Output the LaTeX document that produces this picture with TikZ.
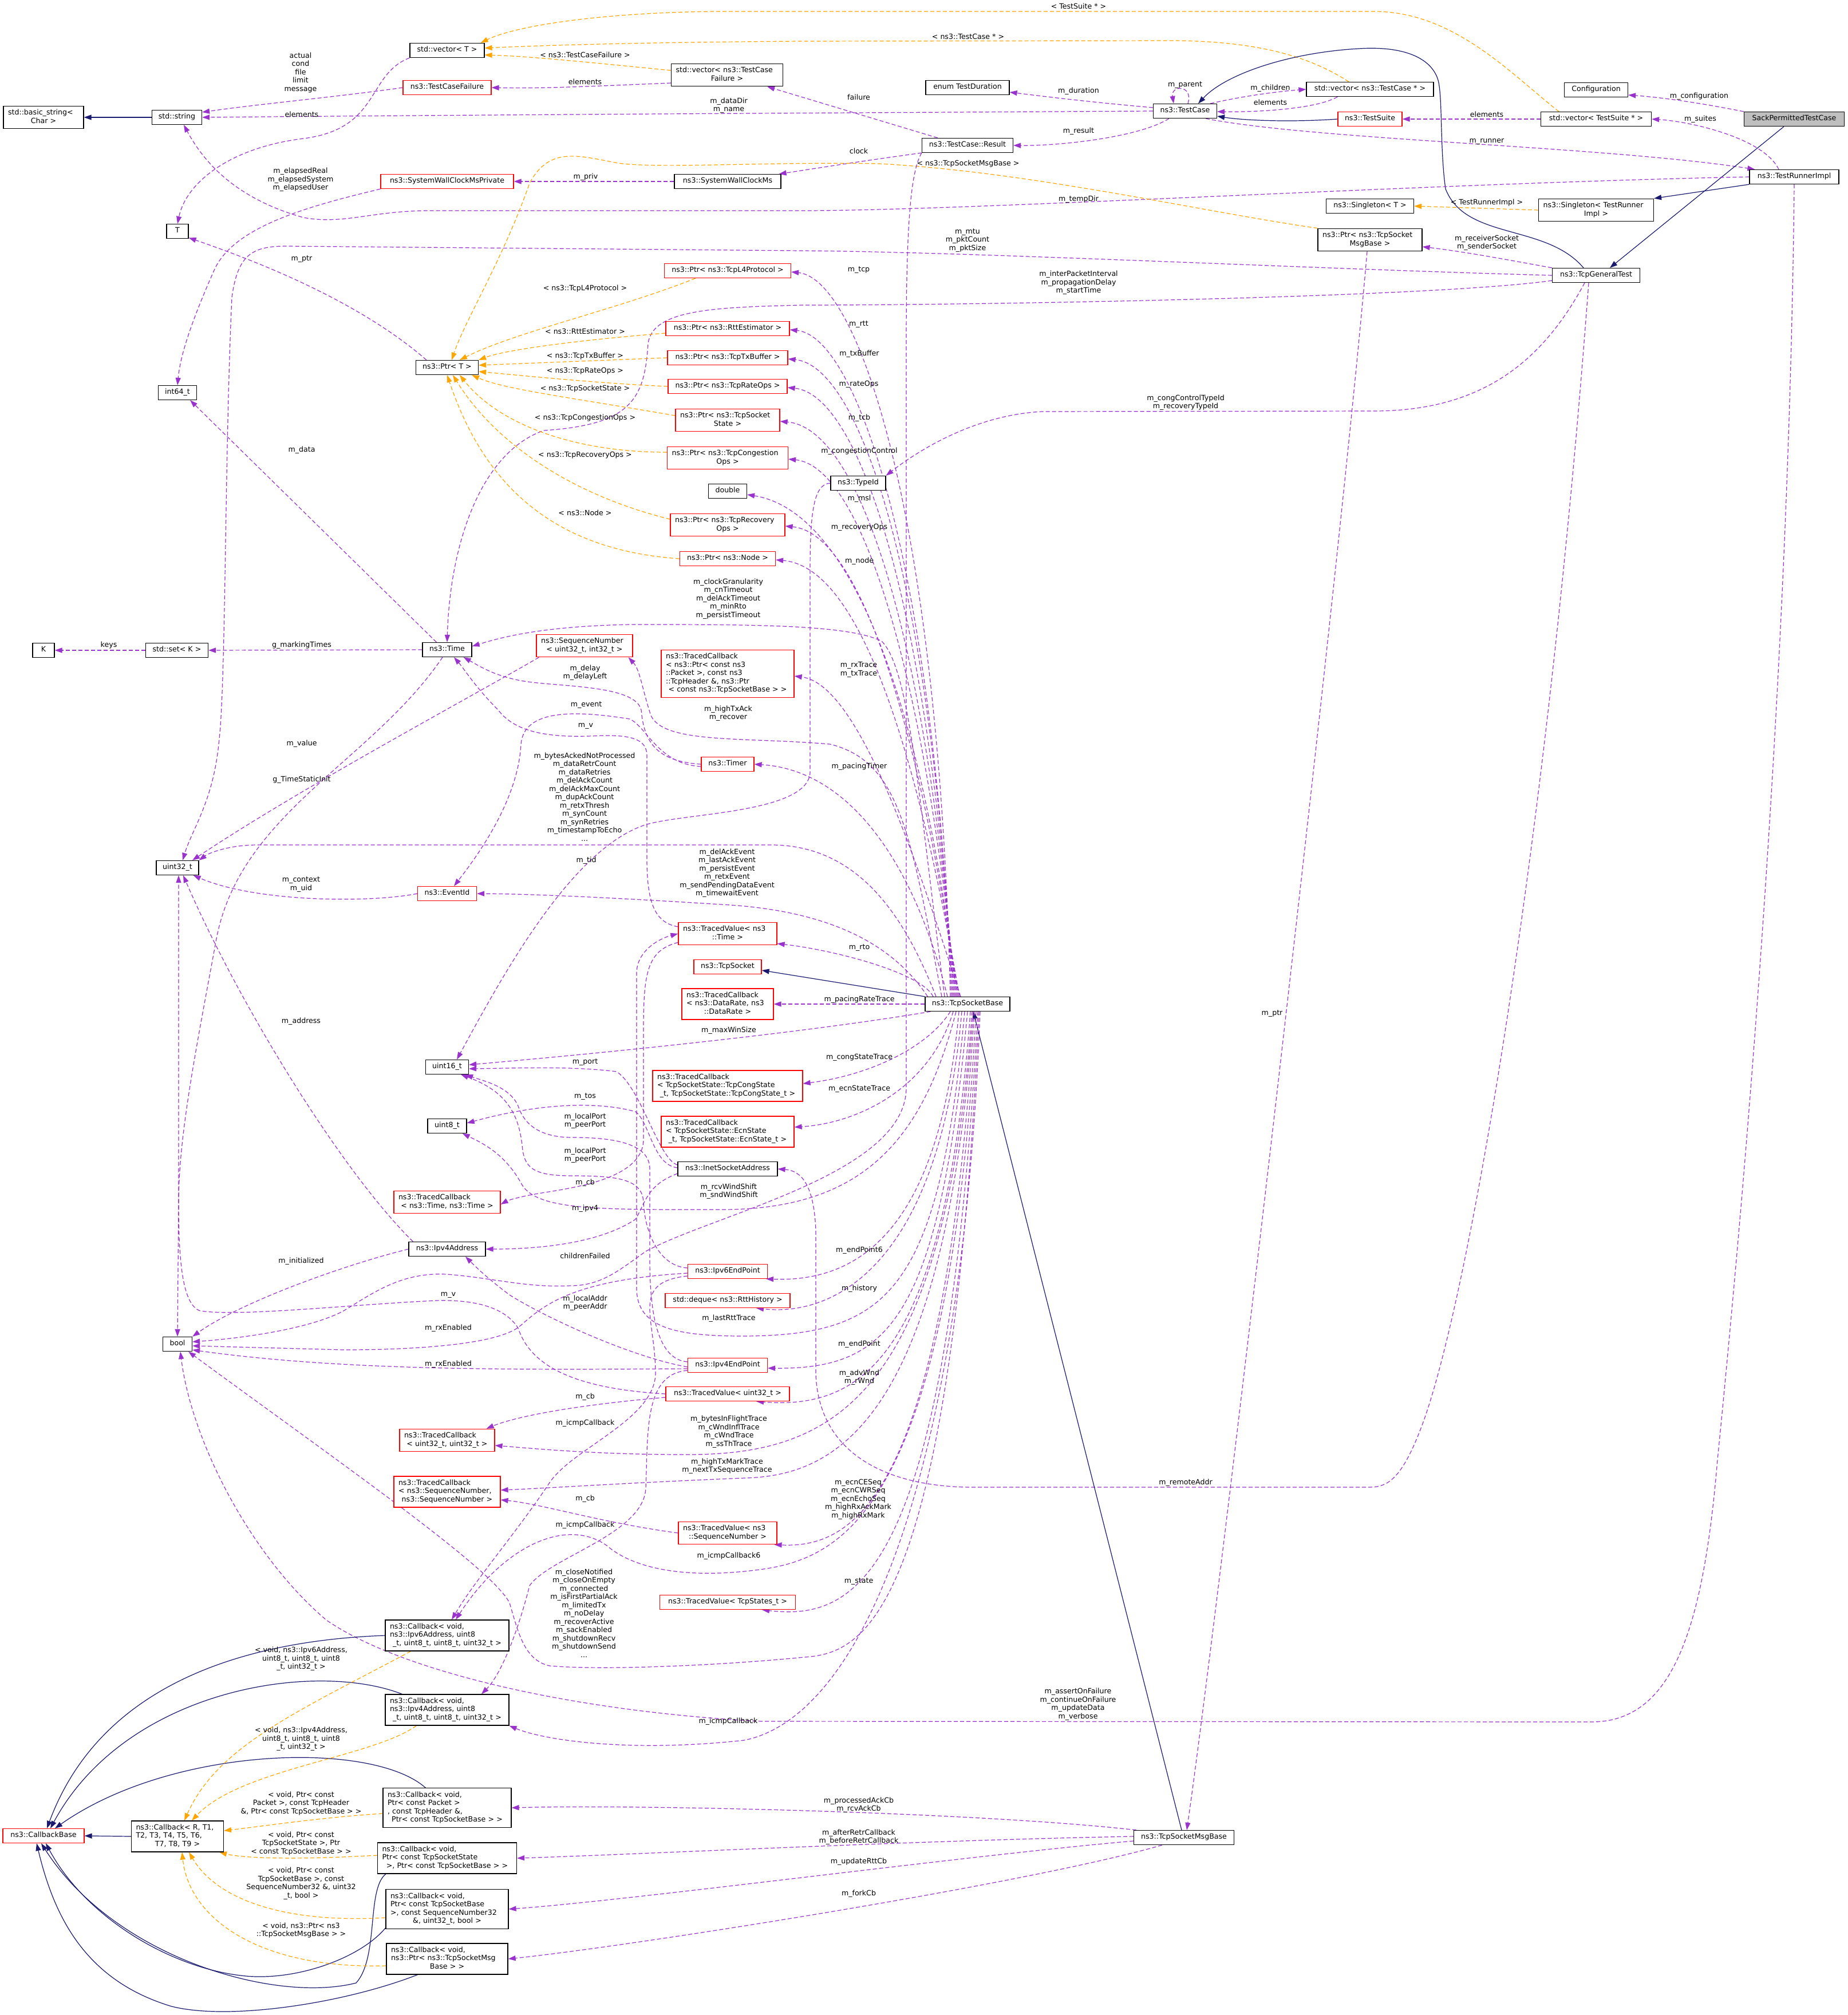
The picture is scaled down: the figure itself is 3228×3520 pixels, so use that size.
\documentclass[tikz,border=0pt]{standalone}
\usepackage{fontspec}
\setmainfont{DejaVu Sans}
\usetikzlibrary{arrows.meta,calc}
\definecolor{upurple}{HTML}{9A32CD}
\definecolor{uorange}{HTML}{FFA500}
\definecolor{ublue}{HTML}{191970}
\definecolor{ugray}{HTML}{BFBFBF}
\newcommand\dfont{\fontsize{12.6}{14.5}\selectfont}
\newcommand\nlx{\\\strut}
\newcommand\lastln[1]{\makebox[\hsize]{\strut #1}}
\pgfdeclarelayer{bgzero}
\pgfdeclarelayer{edges}
\pgfsetlayers{bgzero,edges,main}
\tikzset{
 box/.style={draw=black, line width=1.2pt, fill=white, font=\dfont, inner xsep=4pt, inner ysep=5.25pt, execute at begin node=\strut, align=center},
 rbox/.style={box, draw=red},
 gbox/.style={box, fill=ugray},
 mbox/.style={box, align=left, inner xsep=8pt},
 rmbox/.style={mbox, draw=red},
 lab/.style={font=\dfont, align=center, inner sep=0pt},
 usage/.style={draw=upurple, line width=1.2pt, dash pattern=on 7pt off 4pt, -{Triangle[length=13pt,width=9pt]}},
 tmpl/.style={usage, draw=uorange},
 inher/.style={draw=ublue, line width=1.2pt, -{Triangle[length=13pt,width=9pt]}}
}
\begin{document}
\begin{tikzpicture}[x=1pt,y=-1pt]
\begin{pgfonlayer}{bgzero}
\fill[white] (0,0) rectangle (3228,3520);
\end{pgfonlayer}
\useasboundingbox (0,0) rectangle (3228,3520);

% ---------------- nodes ----------------
\node[gbox,minimum width=175pt] (sptc) at (3134,208) {SackPermittedTestCase};
\node[box,minimum width=111pt] (conf) at (2788,157) {Configuration};
\node[box,minimum width=193pt] (vsuite) at (2788,208) {std::vector< TestSuite * >};
\node[rbox,minimum width=112pt] (suite) at (2393,208) {ns3::TestSuite};
\node[box,minimum width=111pt] (tc) at (2070,194) {ns3::TestCase};
\node[box,minimum width=222pt] (vtc) at (2393,156) {std::vector< ns3::TestCase * >};
\node[box,minimum width=146pt] (tdur) at (1690,153) {enum TestDuration};
\node[box,minimum width=159pt] (res) at (1690,254) {ns3::TestCase::Result};
\node[mbox,text width=179pt] (vfail) at (1270,131) {std::vector< ns3::TestCase\\\lastln{Failure >}};
\node[box,minimum width=186pt] (swcm) at (1271,317) {ns3::SystemWallClockMs};
\node[box,minimum width=130pt] (vecT) at (781,88) {std::vector< T >};
\node[rbox,minimum width=154pt] (tcf) at (781,153) {ns3::TestCaseFailure};
\node[box,minimum width=87pt] (str) at (309,205) {std::string};
\node[mbox,text width=124pt] (bstr) at (76,205) {std::basic\_string<\\\lastln{Char >}};
\node[rbox,minimum width=232pt] (swcmp) at (781,317) {ns3::SystemWallClockMsPrivate};
\node[box,minimum width=38pt] (T) at (310,404) {T};
\node[rbox,minimum width=221pt] (pl4) at (1271,473) {ns3::Ptr< ns3::TcpL4Protocol >};
\node[box,minimum width=109pt] (ptrT) at (781,642) {ns3::Ptr< T >};
\node[box,minimum width=67pt] (i64) at (310,686) {int64\_t};
\node[rbox,minimum width=216pt] (prtt) at (1271,574) {ns3::Ptr< ns3::RttEstimator >};
\node[rbox,minimum width=210pt] (ptx) at (1271,625) {ns3::Ptr< ns3::TcpTxBuffer >};
\node[rbox,minimum width=208pt] (prate) at (1271,675) {ns3::Ptr< ns3::TcpRateOps >};
\node[rmbox,text width=166pt] (ptcb) at (1271,734) {ns3::Ptr< ns3::TcpSocket\\\lastln{State >}};
\node[rmbox,text width=195pt] (pcong) at (1271,800) {ns3::Ptr< ns3::TcpCongestion\\\lastln{Ops >}};
\node[box,minimum width=96pt] (typeid) at (1499,844) {ns3::TypeId};
\node[box,minimum width=67pt] (dbl) at (1271,858) {double};
\node[rmbox,text width=184pt] (prec) at (1271,917) {ns3::Ptr< ns3::TcpRecovery\\\lastln{Ops >}};
\node[rbox,minimum width=167pt] (pnode) at (1271,976) {ns3::Ptr< ns3::Node >};
\node[rmbox,text width=216pt] (tcpkt) at (1271,1177) {ns3::TracedCallback\nlx < ns3::Ptr< const ns3\nlx ::Packet >, const ns3\nlx ::TcpHeader \&, ns3::Ptr\\\lastln{< const ns3::TcpSocketBase > >}};
\node[rmbox,text width=152pt] (seqn) at (1021,1128) {ns3::SequenceNumber\\\lastln{< uint32\_t, int32\_t >}};
\node[rbox,minimum width=92pt] (timer) at (1271,1335) {ns3::Timer};
\node[box,minimum width=86pt] (time) at (781,1135) {ns3::Time};
\node[box,minimum width=109pt] (setK) at (309,1136) {std::set< K >};
\node[box,minimum width=38pt] (K) at (76,1136) {K};
\node[box,minimum width=74pt] (u32) at (310,1516) {uint32\_t};
\node[rbox,minimum width=103pt] (evid) at (781,1561) {ns3::EventId};
\node[rmbox,text width=156pt] (tvtime) at (1271,1631) {ns3::TracedValue< ns3\\\lastln{::Time >}};
\node[rbox,minimum width=118pt] (tsock) at (1271,1689) {ns3::TcpSocket};
\node[box,minimum width=148pt] (tsb) at (1690,1754) {ns3::TcpSocketBase};
\node[rmbox,text width=144pt] (tcrate) at (1271,1754) {ns3::TracedCallback\nlx < ns3::DataRate, ns3\\\lastln{::DataRate >}};
\node[box,minimum width=75pt] (u16) at (781,1864) {uint16\_t};
\node[rmbox,text width=246pt] (tccong) at (1271,1897) {ns3::TracedCallback\nlx < TcpSocketState::TcpCongState\\\lastln{\_t, TcpSocketState::TcpCongState\_t >}};
\node[box,minimum width=68pt] (u8) at (781,1967) {uint8\_t};
\node[rmbox,text width=216pt] (tcecn) at (1271,1977) {ns3::TracedCallback\nlx < TcpSocketState::EcnState\\\lastln{\_t, TcpSocketState::EcnState\_t >}};
\node[box,minimum width=174pt] (inet) at (1271,2042) {ns3::InetSocketAddress};
\node[rmbox,text width=170pt] (tctt) at (781,2100) {ns3::TracedCallback\\\lastln{< ns3::Time, ns3::Time >}};
\node[box,minimum width=134pt] (ipv4a) at (781,2182) {ns3::Ipv4Address};
\node[rbox,minimum width=139pt] (ep6) at (1271,2221) {ns3::Ipv6EndPoint};
\node[rbox,minimum width=218pt] (deq) at (1271,2272) {std::deque< ns3::RttHistory >};
\node[box,minimum width=51pt] (bool) at (310,2348) {bool};
\node[rbox,minimum width=139pt] (ep4) at (1271,2385) {ns3::Ipv4EndPoint};
\node[rbox,minimum width=216pt] (tvu32) at (1271,2435) {ns3::TracedValue< uint32\_t >};
\node[rmbox,text width=150pt] (tcu32) at (781,2516) {ns3::TracedCallback\\\lastln{< uint32\_t, uint32\_t >}};
\node[rmbox,text width=170pt] (tcseq) at (781,2606) {ns3::TracedCallback\nlx < ns3::SequenceNumber,\\\lastln{ns3::SequenceNumber >}};
\node[rmbox,text width=156pt] (tvseq) at (1271,2678) {ns3::TracedValue< ns3\\\lastln{::SequenceNumber >}};
\node[rbox,minimum width=237pt] (tvstate) at (1271,2799) {ns3::TracedValue< TcpStates\_t >};
\node[mbox,text width=200pt] (cb6) at (781,2857) {ns3::Callback< void,\nlx ns3::Ipv6Address, uint8\\\lastln{\_t, uint8\_t, uint8\_t, uint32\_t >}};
\node[mbox,text width=200pt] (cb4) at (781,2987) {ns3::Callback< void,\nlx ns3::Ipv4Address, uint8\\\lastln{\_t, uint8\_t, uint8\_t, uint32\_t >}};
\node[rbox,minimum width=142pt] (cbase) at (76,3207) {ns3::CallbackBase};
\node[mbox,text width=145pt] (cbR) at (310,3208) {ns3::Callback< R, T1,\nlx T2, T3, T4, T5, T6,\\\lastln{T7, T8, T9 >}};
\node[mbox,text width=208pt] (cbpkt) at (781,3158) {ns3::Callback< void,\nlx Ptr< const Packet >\nlx , const TcpHeader \&,\\\lastln{Ptr< const TcpSocketBase > >}};
\node[mbox,text width=227pt] (cbstate) at (781,3246) {ns3::Callback< void,\nlx Ptr< const TcpSocketState\\\lastln{>, Ptr< const TcpSocketBase > >}};
\node[mbox,text width=198pt] (cbseq) at (781,3335) {ns3::Callback< void,\nlx Ptr< const TcpSocketBase\nlx >, const SequenceNumber32\\\lastln{\&, uint32\_t, bool >}};
\node[mbox,text width=196pt] (cbmsg) at (781,3422) {ns3::Callback< void,\nlx ns3::Ptr< ns3::TcpSocketMsg\\\lastln{Base > >}};
\node[box,minimum width=175pt] (msgb) at (2068,3210) {ns3::TcpSocketMsgBase};
\node[mbox,text width=166pt] (pmsg) at (2393,419) {ns3::Ptr< ns3::TcpSocket\\\lastln{MsgBase >}};
\node[box,minimum width=153pt] (singT) at (2393,360) {ns3::Singleton< T >};
\node[mbox,text width=185pt] (singR) at (2788,367) {ns3::Singleton< TestRunner\\\lastln{Impl >}};
\node[box,minimum width=156pt] (run) at (3134,309) {ns3::TestRunnerImpl};
\node[box,minimum width=153pt] (gen) at (2788,481) {ns3::TcpGeneralTest};

% ---------------- edges ----------------
\begin{pgfonlayer}{edges}
% top area
\draw[usage] (tcf.west) .. controls (600,168) and (450,182) .. ($(str.east)+(0,-9)$);
\draw[usage] (vecT.south west) .. controls (640,130) and (665,225) .. (530,242) .. controls (400,258) and (325,320) .. (T.north);
\draw[usage] ($(vfail.west)+(0,14)$) .. controls (1050,150) and (950,155) .. (tcf.east);
\draw[tmpl] ($(vfail.west)+(0,-8)$) .. controls (1020,108) and (920,98) .. ($(vecT.east)+(0,8)$);
\draw[tmpl] ($(vtc.north)+(-37,0)$) .. controls (2290,100) and (2200,72) .. (2050,71) -- (1400,72) .. controls (1100,74) and (930,80) .. ($(vecT.east)+(0,-4)$);
\draw[tmpl] ($(vsuite.north)+(-65,0)$) .. controls (2640,130) and (2540,20) .. (2400,20) -- (1250,20) .. controls (1050,22) and (900,45) .. ($(vecT.north east)+(-7,0)$);
\draw[inher] (str.west) -- (bstr.east);
\draw[usage] (tc.west) .. controls (1500,197) and (900,200) .. (str.east);
\draw[usage] (swcmp.south west) .. controls (540,360) and (410,395) .. (375,470) .. controls (335,560) and (315,620) .. (i64.north);
\draw[usage] (swcm.west) -- (swcmp.east);
\draw[usage] (res.south west) .. controls (1500,282) and (1420,295) .. ($(swcm.north east)+(-4,0)$);
\draw[usage] ($(res.north west)+(28,0)$) -- ($(vfail.south east)+(-28,0)$);
\draw[usage] ($(tc.west)+(0,-6)$) .. controls (1900,178) and (1820,168) .. ($(tdur.east)+(0,8)$);
\draw[usage] ($(tc.south west)+(28,0)$) .. controls (1990,240) and (1850,255) .. (res.east);
\draw[usage] ($(tc.north)+(5,0)$) .. controls (2085,148) and (2045,148) .. ($(tc.north)+(-20,0)$);
\draw[usage] ($(tc.north east)+(-12,0)$) .. controls (2170,168) and (2230,160) .. (vtc.west);
\draw[usage] ($(vtc.south west)+(55,0)$) .. controls (2300,190) and (2200,196) .. ($(tc.east)+(0,1)$);
\draw[inher] (suite.west) .. controls (2250,214) and (2170,210) .. ($(tc.east)+(0,9)$);
\draw[inher] ($(gen.north)+(-22,0)$) .. controls (2700,390) and (2560,420) .. (2525,330) .. controls (2515,260) and (2520,170) .. (2512,140) .. controls (2500,100) and (2450,80) .. (2373,85) .. controls (2250,92) and (2140,130) .. ($(tc.north)+(23,0)$);
\draw[usage] (vsuite.west) -- (suite.east);
\draw[usage] (sptc.north west) .. controls (2960,178) and (2900,170) .. ($(conf.east)+(0,9)$);
\draw[usage] ($(run.north)+(-27,0)$) .. controls (3080,240) and (2950,212) .. (vsuite.east);
\draw[usage] ($(tc.south east)+(-20,0)$) .. controls (2300,245) and (2800,255) .. ($(run.north west)+(10,0)$);
\draw[inher] ($(sptc.south)+(-18,0)$) -- ($(gen.north)+(24,0)$);
\draw[inher] (run.south west) -- (singR.north east);
\draw[tmpl] (singR.west) -- (singT.east);
\draw[usage] (run.west) .. controls (2500,320) and (1700,368) .. (1400,368) -- (750,368) .. controls (650,368) and (600,393) .. (530,380) .. controls (430,352) and (365,300) .. ($(str.south)+(12,0)$);
\draw[usage] (run.south) .. controls (3125,1200) and (3045,2100) .. (3000,2550) .. controls (2975,2850) and (2920,3008) .. (2780,3008) -- (1330,3007) .. controls (1000,2990) and (700,2920) .. (570,2830) .. controls (440,2720) and (335,2520) .. ($(bool.south)+(5,0)$);
% TcpGeneralTest
\draw[usage] (gen.north west) .. controls (2640,455) and (2560,440) .. ($(pmsg.east)+(0,12)$);
\draw[usage] (gen.west) .. controls (2300,470) and (1700,440) .. (1400,438) -- (500,430) .. controls (440,430) and (415,445) .. (405,520) .. controls (392,800) and (395,1200) .. (382,1300) .. controls (372,1400) and (335,1450) .. ($(u32.north)+(9,0)$);
\draw[usage] ($(gen.south west)+(0,-4)$) .. controls (2500,520) and (1700,533) .. (1400,533) .. controls (1250,537) and (1140,540) .. (1132,600) .. controls (1126,700) and (1100,742) .. (950,752) .. controls (840,790) and (786,950) .. (time.north);
\draw[usage] ($(gen.south)+(-20,0)$) .. controls (2700,620) and (2600,718) .. (2400,718) -- (1820,719) .. controls (1700,725) and (1600,790) .. (typeid.north east);
\draw[usage] ($(gen.south)+(-13,0)$) .. controls (2700,1500) and (2560,2300) .. (2480,2500) .. controls (2445,2590) and (2420,2598) .. (2390,2598) -- (1700,2598) .. controls (1550,2598) and (1430,2540) .. (1425,2400) -- (1425,2150) .. controls (1422,2070) and (1400,2045) .. (inet.east);
% TcpSocketMsgBase
\draw[tmpl] (pmsg.north west) .. controls (2100,370) and (1800,300) .. (1536,286) .. controls (1350,282) and (1150,295) .. (1080,285) .. controls (1010,272) and (960,255) .. (925,320) .. controls (880,450) and (812,560) .. ($(ptrT.north)+(8,0)$);
\draw[usage] ($(pmsg.south)+(-5,0)$) .. controls (2340,1000) and (2130,2800) .. ($(msgb.north)+(5,0)$);
\draw[inher] ($(msgb.north)+(-4,0)$) -- ($(tsb.south)+(10,0)$);
\draw[usage] ($(msgb.north west)+(5,0)$) .. controls (1700,3165) and (1100,3152) .. (cbpkt.east);
\draw[usage] ($(msgb.west)+(0,-2)$) .. controls (1600,3215) and (1100,3240) .. (cbstate.east);
\draw[usage] ($(msgb.west)+(0,6)$) .. controls (1700,3240) and (1100,3320) .. (cbseq.east);
\draw[usage] ($(msgb.south west)+(50,0)$) .. controls (1800,3290) and (1100,3400) .. (cbmsg.east);
% Ptr
\draw[usage] ($(ptrT.north west)+(19,0)$) .. controls (620,520) and (430,450) .. (T.-30);
\draw[tmpl] ($(pl4.south west)+(55,0)$) .. controls (1080,540) and (900,580) .. ($(ptrT.north)+(22,0)$);
\draw[tmpl] ($(prtt.west)+(0,8)$) .. controls (1000,595) and (880,612) .. (ptrT.north east);
\draw[tmpl] (ptx.west) -- ($(ptrT.east)+(0,-4)$);
\draw[tmpl] (prate.west) .. controls (1050,670) and (900,655) .. ($(ptrT.east)+(0,7)$);
\draw[tmpl] ($(ptcb.west)+(0,-8)$) .. controls (1000,695) and (880,680) .. ($(ptrT.south east)+(-12,0)$);
\draw[tmpl] ($(pcong.west)+(0,-10)$) .. controls (1000,790) and (870,740) .. ($(ptrT.south)+(22,0)$);
\draw[tmpl] ($(prec.west)+(0,-10)$) .. controls (1000,865) and (865,775) .. ($(ptrT.south)+(10,0)$);
\draw[tmpl] (pnode.west) .. controls (950,960) and (840,830) .. (ptrT.south);
% TcpSocketBase upward
\draw[usage] ($(tsb.north)+(-30,0)$) .. controls (1640,900) and (1500,487) .. ($(pl4.east)+(0,2)$);
\draw[usage] ($(tsb.north)+(-28,0)$) .. controls (1632,1000) and (1500,588) .. ($(prtt.east)+(0,2)$);
\draw[usage] ($(tsb.north)+(-26,0)$) .. controls (1627,1000) and (1500,639) .. ($(ptx.east)+(0,2)$);
\draw[usage] ($(tsb.north)+(-24,0)$) .. controls (1622,1050) and (1500,689) .. ($(prate.east)+(0,2)$);
\draw[usage] ($(tsb.north)+(-22,0)$) .. controls (1617,1100) and (1500,748) .. ($(ptcb.east)+(0,2)$);
\draw[usage] ($(tsb.north)+(-20,0)$) .. controls (1612,1150) and (1500,814) .. ($(pcong.east)+(0,2)$);
\draw[usage] ($(tsb.north)+(-18,0)$) .. controls (1607,1200) and (1480,892) .. ($(dbl.east)+(0,6)$);
\draw[usage] ($(tsb.north)+(-16,0)$) .. controls (1602,1250) and (1500,931) .. ($(prec.east)+(0,2)$);
\draw[usage] ($(tsb.north)+(-14,0)$) .. controls (1600,1300) and (1500,990) .. ($(pnode.east)+(0,2)$);
\draw[usage] ($(tsb.north)+(-40,0)$) .. controls (1605,1400) and (1590,1170) .. (1540,1120) .. controls (1480,1090) and (1300,1091) .. (1100,1091) .. controls (950,1094) and (880,1112) .. ($(time.east)+(0,-6)$);
\draw[usage] ($(tsb.north)+(-12,0)$) .. controls (1600,1500) and (1500,1195) .. ($(tcpkt.east)+(0,4)$);
\draw[usage] ($(tsb.north)+(-45,0)$) .. controls (1590,1450) and (1570,1330) .. (1450,1300) .. controls (1300,1287) and (1160,1300) .. (1137,1250) .. controls (1122,1205) and (1118,1170) .. ($(seqn.south east)+(-8,0)$);
\draw[usage] ($(tsb.north)+(-35,0)$) .. controls (1595,1500) and (1480,1345) .. (timer.east);
\draw[usage] ($(tsb.north)+(-55,0)$) .. controls (1580,1600) and (1500,1478) .. (1350,1476) -- (450,1476) .. controls (400,1476) and (365,1490) .. (u32.north east);
\draw[usage] ($(tsb.north west)+(5,0)$) .. controls (1560,1650) and (1450,1590) .. (1260,1580) .. controls (1100,1570) and (950,1562) .. (evid.east);
\draw[usage] ($(tsb.north)+(-60,0)$) .. controls (1610,1700) and (1460,1660) .. ($(tvtime.south east)+(0,-3)$);
\draw[inher] (tsb.north west) -- ($(tsock.east)+(0,6)$);
\draw[usage] (tsb.west) -- (tcrate.east);
% TcpSocketBase downward
\draw[usage] ($(tsb.south west)+(10,0)$) .. controls (1400,1805) and (1050,1840) .. ($(u16.east)+(0,-4)$);
\draw[usage] ($(tsb.south)+(-30,0)$) .. controls (1620,1830) and (1520,1878) .. ($(tccong.east)+(0,-4)$);
\draw[usage] ($(tsb.south)+(-25,0)$) .. controls (1625,1900) and (1500,1962) .. ($(tcecn.east)+(0,-8)$);
\draw[usage] ($(tsb.south)+(-20,0)$) .. controls (1610,2000) and (1500,2113) .. (1260,2113) .. controls (1050,2113) and (940,2115) .. (912,2070) .. controls (885,2020) and (850,2000) .. ($(u8.south east)+(-8,0)$);
\draw[usage] ($(tsb.south)+(-15,0)$) .. controls (1640,2150) and (1500,2240) .. ($(ep6.south east)+(-3,0)$);
\draw[usage] ($(tsb.south)+(-10,0)$) .. controls (1640,2220) and (1450,2300) .. ($(deq.south)+(50,0)$);
\draw[usage] ($(tsb.south)+(-5,0)$) .. controls (1640,2260) and (1550,2332) .. (1300,2334) .. controls (1180,2334) and (1112,2320) .. (1112,2250) -- (1112,1700) .. controls (1112,1662) and (1150,1640) .. (tvtime.west);
\draw[usage] (tsb.south) .. controls (1640,2310) and (1550,2392) .. ($(ep4.east)+(0,5)$);
\draw[usage] ($(tsb.south)+(5,0)$) .. controls (1650,2380) and (1500,2462) .. ($(tvu32.south)+(50,0)$);
\draw[usage] ($(tsb.south)+(8,0)$) .. controls (1650,2450) and (1450,2541) .. (1200,2541) .. controls (1050,2541) and (950,2532) .. ($(tcu32.east)+(0,9)$);
\draw[usage] ($(tsb.south)+(10,0)$) .. controls (1650,2500) and (1450,2578) .. (1300,2582) .. controls (1100,2590) and (950,2600) .. ($(tcseq.east)+(0,-3)$);
\draw[usage] ($(tsb.south)+(12,0)$) .. controls (1650,2600) and (1500,2705) .. ($(tvseq.south east)+(-5,0)$);
\draw[usage] ($(tsb.south)+(15,0)$) .. controls (1655,2690) and (1450,2730) .. (1300,2745) .. controls (1180,2757) and (1100,2735) .. (1060,2700) .. controls (990,2650) and (880,2700) .. ($(cb6.north)+(15,0)$);
\draw[usage] ($(tsb.south)+(18,0)$) .. controls (1655,2750) and (1500,2832) .. ($(tvstate.south)+(60,0)$);
\draw[usage] ($(tsb.south)+(20,0)$) .. controls (1660,2850) and (1500,2888) .. (1404,2895) .. controls (1250,2910) and (1050,2918) .. (960,2910) .. controls (915,2900) and (905,2850) .. (890,2800) .. controls (860,2740) and (600,2560) .. ($(bool.south east)+(-7,0)$);
\draw[usage] ($(tsb.south)+(22,0)$) .. controls (1680,2600) and (1500,3000) .. (1300,3040) .. controls (1100,3062) and (950,3040) .. (cb4.south east);
% Time and friends
\draw[usage] ($(time.north west)+(25,0)$) -- ($(i64.south east)+(-12,0)$);
\draw[usage] (time.west) -- (setK.east);
\draw[usage] (setK.west) -- (K.east);
\draw[usage] ($(time.south)+(-8,0)$) .. controls (650,1330) and (420,1420) .. (378,1640) .. controls (345,1820) and (312,1980) .. (312,2100) -- (bool.north);
\draw[usage] ($(seqn.south west)+(5,0)$) .. controls (800,1230) and (520,1380) .. ($(u32.north)+(26,0)$);
\draw[usage] (evid.west) .. controls (650,1577) and (450,1577) .. ($(u32.south east)+(-10,0)$);
\draw[usage] (timer.west) .. controls (1150,1330) and (1125,1300) .. (1120,1240) .. controls (1110,1200) and (1000,1200) .. (930,1192) .. controls (870,1185) and (840,1165) .. ($(time.south east)+(-15,0)$);
\draw[usage] ($(timer.west)+(0,4)$) .. controls (1150,1335) and (1130,1270) .. (1100,1256) .. controls (1000,1240) and (915,1240) .. (910,1300) .. controls (905,1400) and (830,1500) .. ($(evid.north)+(12,0)$);
\draw[usage] ($(tvtime.west)+(0,-12)$) .. controls (1145,1612) and (1130,1580) .. (1130,1500) -- (1130,1320) .. controls (1130,1290) and (1100,1284) .. (1050,1285) .. controls (960,1290) and (900,1280) .. (870,1240) .. controls (830,1200) and (812,1170) .. ($(time.south)+(12,0)$);
\draw[usage] ($(tvtime.south west)+(0,-5)$) .. controls (1130,1660) and (1124,1700) .. (1124,1800) -- (1124,1990) .. controls (1124,2060) and (1000,2075) .. (940,2085) .. controls (900,2092) and (885,2098) .. ($(tctt.east)+(0,4)$);
\draw[usage] (typeid.west) .. controls (1420,845) and (1415,900) .. (1415,1000) -- (1415,1350) .. controls (1410,1420) and (1200,1420) .. (1130,1440) .. controls (1000,1480) and (880,1700) .. ($(u16.north)+(17,0)$);
% addresses, end points
\draw[usage] ($(ipv4a.north west)+(8,0)$) .. controls (600,2050) and (420,1760) .. ($(u32.south)+(10,0)$);
\draw[usage] (ipv4a.west) .. controls (600,2210) and (420,2275) .. (bool.north east);
\draw[usage] ($(inet.west)+(0,-7)$) .. controls (1150,2025) and (1120,1900) .. (1077,1872) .. controls (1000,1862) and (900,1866) .. ($(u16.east)+(0,3)$);
\draw[usage] ($(inet.west)+(0,-2)$) .. controls (1140,2035) and (1135,1960) .. (1110,1942) .. controls (1050,1925) and (950,1925) .. ($(u8.east)+(0,-5)$);
\draw[usage] ($(inet.south west)+(0,-5)$) .. controls (1130,2070) and (1128,2100) .. (1110,2130) .. controls (1050,2170) and (950,2182) .. (ipv4a.east);
\draw[usage] ($(ep4.west)+(0,-6)$) .. controls (1150,2375) and (1135,2300) .. (1135,2200) -- (1135,2040) .. controls (1133,2000) and (1080,1987) .. (1000,1987) .. controls (940,1987) and (915,1962) .. (905,1932) .. controls (890,1897) and (840,1887) .. ($(u16.south east)+(-6,0)$);
\draw[usage] ($(ep6.west)+(0,-6)$) .. controls (1150,2212) and (1126,2150) .. (1124,2100) .. controls (1122,2060) and (1080,2054) .. (1000,2054) .. controls (930,2054) and (915,2040) .. (912,2000) .. controls (905,1940) and (880,1905) .. ($(u16.south east)+(-14,0)$);
\draw[usage] ($(ep4.west)+(0,3)$) .. controls (1100,2370) and (950,2300) .. (890,2262) .. controls (850,2232) and (830,2212) .. ($(ipv4a.south)+(32,0)$);
\draw[usage] ($(ep6.west)+(0,3)$) .. controls (1000,2236) and (950,2280) .. (910,2315) .. controls (870,2352) and (700,2358) .. (600,2358) -- ($(bool.east)+(0,3)$);
\draw[usage] ($(ep4.west)+(0,6)$) .. controls (900,2393) and (600,2395) .. ($(bool.south east)+(0,-3)$);
\draw[usage] (tvu32.west) .. controls (990,2425) and (925,2380) .. (905,2320) .. controls (880,2280) and (820,2270) .. (760,2272) .. controls (600,2280) and (420,2300) .. (350,2290) .. controls (318,2280) and (312,2200) .. (312,2100) -- ($(u32.south)+(2,0)$);
\draw[usage] ($(tvu32.west)+(0,6)$) .. controls (1000,2455) and (900,2475) .. ($(tcu32.north east)+(-15,0)$);
\draw[usage] (tvseq.west) .. controls (1050,2660) and (950,2628) .. ($(tcseq.east)+(0,14)$);
\draw[usage] ($(ep6.west)+(0,8)$) .. controls (1100,2240) and (1145,2300) .. (1145,2400) .. controls (1143,2480) and (1000,2530) .. (960,2590) .. controls (900,2680) and (830,2760) .. ($(cb6.north)+(8,0)$);
\draw[usage] ($(ep4.west)+(0,9)$) .. controls (1125,2400) and (1132,2500) .. (1128,2600) .. controls (1124,2680) and (960,2720) .. (925,2770) .. controls (910,2830) and (880,2920) .. ($(cb4.north)+(60,0)$);
\draw[usage] (res.south west) .. controls (1590,300) and (1583,400) .. (1583,600) -- (1583,1900) .. controls (1583,2050) and (1250,2120) .. (1128,2186) .. controls (1080,2220) and (1050,2246) .. (996,2246) .. controls (920,2250) and (860,2232) .. (780,2226) .. controls (700,2222) and (650,2260) .. (600,2290) .. controls (540,2322) and (420,2338) .. ($(bool.east)+(0,-4)$);
% callbacks
\draw[inher] (cbR.west) -- (cbase.east);
\draw[inher] (cb6.west) .. controls (450,2865) and (180,2930) .. ($(cbase.north)+(6,0)$);
\draw[inher] ($(cb4.north west)+(30,0)$) .. controls (550,2900) and (220,2950) .. ($(cbase.north)+(12,0)$);
\draw[inher] ($(cbpkt.north west)+(75,0)$) .. controls (650,3040) and (300,3050) .. ($(cbase.north)+(20,0)$);
\draw[inher] ($(cbstate.south west)+(15,0)$) .. controls (640,3300) and (662,3420) .. (622,3464) .. controls (480,3500) and (200,3420) .. ($(cbase.south)+(-4,0)$);
\draw[inher] ($(cbseq.south west)+(0,-2)$) .. controls (630,3420) and (520,3460) .. (430,3452) .. controls (300,3440) and (150,3350) .. ($(cbase.south)+(4,0)$);
\draw[inher] ($(cbmsg.south west)+(55,0)$) .. controls (600,3500) and (400,3530) .. (300,3505) .. controls (150,3460) and (95,3350) .. ($(cbase.south)+(-12,0)$);
\draw[tmpl] ($(cb6.south west)+(45,0)$) .. controls (520,2990) and (380,3050) .. ($(cbR.north)+(12,0)$);
\draw[tmpl] ($(cb4.south west)+(55,0)$) .. controls (650,3070) and (420,3090) .. ($(cbR.north)+(25,0)$);
\draw[tmpl] ($(cbpkt.west)+(0,10)$) .. controls (560,3175) and (460,3190) .. ($(cbR.east)+(0,-10)$);
\draw[tmpl] ($(cbstate.west)+(0,-5)$) .. controls (500,3250) and (420,3245) .. ($(cbR.south east)+(-8,0)$);
\draw[tmpl] ($(cbseq.west)+(0,15)$) .. controls (500,3360) and (380,3320) .. ($(cbR.south)+(20,0)$);
\draw[tmpl] ($(cbmsg.west)+(0,12)$) .. controls (450,3440) and (330,3350) .. ($(cbR.south)+(8,0)$);
\end{pgfonlayer}

% ---------------- labels ----------------
\node[lab] (lb01) at (525,127) {actual\\cond\\file\\limit\\message};
\node[lab] (lb02) at (527,200) {elements};
\node[lab] (lb03) at (1022,143) {elements};
\node[lab] (lb04) at (1022,96) {< ns3::TestCaseFailure >};
\node[lab] (lb05) at (1691,64) {< ns3::TestCase * >};
\node[lab] (lb06) at (1884,11) {< TestSuite * >};
\node[lab] (lb07) at (1273,184) {m\_dataDir\\m\_name};
\node[lab] (lb08) at (525,314) {m\_elapsedReal\\m\_elapsedSystem\\m\_elapsedUser};
\node[lab] (lb09) at (1023,309) {m\_priv};
\node[lab] (lb10) at (1500,264) {clock};
\node[lab] (lb11) at (1500,170) {failure};
\node[lab] (lb12) at (1884,159) {m\_duration};
\node[lab] (lb13) at (1884,229) {m\_result};
\node[lab] (lb14) at (2070,149) {m\_parent};
\node[lab] (lb15) at (2219,154) {m\_children};
\node[lab] (lb16) at (2219,179) {elements};
\node[lab] (lb17) at (2597,200) {elements};
\node[lab] (lb18) at (2968,168) {m\_configuration};
\node[lab] (lb19) at (2970,208) {m\_suites};
\node[lab] (lb20) at (2597,247) {m\_runner};
\node[lab] (lb21) at (2597,354) {< TestRunnerImpl >};
\node[lab] (lb22) at (1884,348) {m\_tempDir};
\node[lab] (lb23) at (1691,286) {< ns3::TcpSocketMsgBase >};
\node[lab] (lb24) at (1690,420) {m\_mtu\\m\_pktCount\\m\_pktSize};
\node[lab] (lb25) at (1884,494) {m\_interPacketInterval\\m\_propagationDelay\\m\_startTime};
\node[lab] (lb26) at (2597,424) {m\_receiverSocket\\m\_senderSocket};
\node[lab] (lb27) at (2071,703) {m\_congControlTypeId\\m\_recoveryTypeId};
\node[lab] (lb28) at (527,453) {m\_ptr};
\node[lab] (lb29) at (1022,504) {< ns3::TcpL4Protocol >};
\node[lab] (lb30) at (1022,579) {< ns3::RttEstimator >};
\node[lab] (lb31) at (1022,622) {< ns3::TcpTxBuffer >};
\node[lab] (lb32) at (1022,648) {< ns3::TcpRateOps >};
\node[lab] (lb33) at (1022,679) {< ns3::TcpSocketState >};
\node[lab] (lb34) at (1022,730) {< ns3::TcpCongestionOps >};
\node[lab] (lb35) at (1022,795) {< ns3::TcpRecoveryOps >};
\node[lab] (lb36) at (1022,896) {< ns3::Node >};
\node[lab] (lb37) at (1500,472) {m\_tcp};
\node[lab] (lb38) at (1500,567) {m\_rtt};
\node[lab] (lb39) at (1501,618) {m\_txBuffer};
\node[lab] (lb40) at (1500,671) {m\_rateOps};
\node[lab] (lb41) at (1501,730) {m\_tcb};
\node[lab] (lb42) at (1501,788) {m\_congestionControl};
\node[lab] (lb43) at (1501,871) {m\_msl};
\node[lab] (lb44) at (1501,921) {m\_recoveryOps};
\node[lab] (lb45) at (1501,980) {m\_node};
\node[lab] (lb46) at (1272,1046) {m\_clockGranularity\\m\_cnTimeout\\m\_delAckTimeout\\m\_minRto\\m\_persistTimeout};
\node[lab] (lb47) at (1500,1170) {m\_rxTrace\\m\_txTrace};
\node[lab] (lb48) at (1272,1246) {m\_highTxAck\\m\_recover};
\node[lab] (lb49) at (1501,1339) {m\_pacingTimer};
\node[lab] (lb50) at (1021,1392) {m\_bytesAckedNotProcessed\\m\_dataRetrCount\\m\_dataRetries\\m\_delAckCount\\m\_delAckMaxCount\\m\_dupAckCount\\m\_retxThresh\\m\_synCount\\m\_synRetries\\m\_timestampToEcho\\...};
\node[lab] (lb51) at (1270,1525) {m\_delAckEvent\\m\_lastAckEvent\\m\_persistEvent\\m\_retxEvent\\m\_sendPendingDataEvent\\m\_timewaitEvent};
\node[lab] (lb52) at (1501,1656) {m\_rto};
\node[lab] (lb53) at (1501,1746) {m\_pacingRateTrace};
\node[lab] (lb54) at (1273,1800) {m\_maxWinSize};
\node[lab] (lb55) at (1501,1847) {m\_congStateTrace};
\node[lab] (lb56) at (1501,1902) {m\_ecnStateTrace};
\node[lab] (lb57) at (1273,2081) {m\_rcvWindShift\\m\_sndWindShift};
\node[lab] (lb58) at (1501,2184) {m\_endPoint6};
\node[lab] (lb59) at (1501,2251) {m\_history};
\node[lab] (lb60) at (1273,2303) {m\_lastRttTrace};
\node[lab] (lb61) at (1501,2348) {m\_endPoint};
\node[lab] (lb62) at (1501,2406) {m\_advWnd\\m\_rWnd};
\node[lab] (lb63) at (1273,2501) {m\_bytesInFlightTrace\\m\_cWndInflTrace\\m\_cWndTrace\\m\_ssThTrace};
\node[lab] (lb64) at (1270,2561) {m\_highTxMarkTrace\\m\_nextTxSequenceTrace};
\node[lab] (lb65) at (1499,2619) {m\_ecnCESeq\\m\_ecnCWRSeq\\m\_ecnEchoSeq\\m\_highRxAckMark\\m\_highRxMark};
\node[lab] (lb66) at (1273,2718) {m\_icmpCallback6};
\node[lab] (lb67) at (1500,2763) {m\_state};
\node[lab] (lb68) at (1020,2818) {m\_closeNotified\\m\_closeOnEmpty\\m\_connected\\m\_isFirstPartialAck\\m\_limitedTx\\m\_noDelay\\m\_recoverActive\\m\_sackEnabled\\m\_shutdownRecv\\m\_shutdownSend\\...};
\node[lab] (lb69) at (1272,3007) {m\_icmpCallback};
\node[lab] (lb70) at (1022,1175) {m\_delay\\m\_delayLeft};
\node[lab] (lb71) at (1024,1232) {m\_event};
\node[lab] (lb72) at (1023,1268) {m\_v};
\node[lab] (lb73) at (1024,1503) {m\_tid};
\node[lab] (lb74) at (1022,1856) {m\_port};
\node[lab] (lb75) at (1022,1916) {m\_tos};
\node[lab] (lb76) at (1022,1958) {m\_localPort\\m\_peerPort};
\node[lab] (lb77) at (1022,2018) {m\_localPort\\m\_peerPort};
\node[lab] (lb78) at (1022,2066) {m\_cb};
\node[lab] (lb79) at (1022,2111) {m\_ipv4};
\node[lab] (lb80) at (1022,2194) {childrenFailed};
\node[lab] (lb81) at (1022,2276) {m\_localAddr\\m\_peerAddr};
\node[lab] (lb82) at (1022,2440) {m\_cb};
\node[lab] (lb83) at (1022,2486) {m\_icmpCallback};
\node[lab] (lb84) at (1022,2618) {m\_cb};
\node[lab] (lb85) at (1022,2664) {m\_icmpCallback};
\node[lab] (lb86) at (527,786) {m\_data};
\node[lab] (lb87) at (527,1127) {g\_markingTimes};
\node[lab] (lb88) at (527,1299) {m\_value};
\node[lab] (lb89) at (527,1362) {g\_TimeStaticInit};
\node[lab] (lb90) at (526,1545) {m\_context\\m\_uid};
\node[lab] (lb91) at (526,1784) {m\_address};
\node[lab] (lb92) at (526,2203) {m\_initialized};
\node[lab] (lb93) at (783,2262) {m\_v};
\node[lab] (lb94) at (783,2320) {m\_rxEnabled};
\node[lab] (lb95) at (783,2383) {m\_rxEnabled};
\node[lab] (lb96) at (190,1127) {keys};
\node[lab] (lb97) at (526,2898) {< void, ns3::Ipv6Address,\\uint8\_t, uint8\_t, uint8\\\_t, uint32\_t >};
\node[lab] (lb98) at (526,3038) {< void, ns3::Ipv4Address,\\uint8\_t, uint8\_t, uint8\\\_t, uint32\_t >};
\node[lab] (lb99) at (526,3150) {< void, Ptr< const\\Packet >, const TcpHeader\\\&, Ptr< const TcpSocketBase > >};
\node[lab] (lb100) at (526,3220) {< void, Ptr< const\\TcpSocketState >, Ptr\\< const TcpSocketBase > >};
\node[lab] (lb101) at (526,3290) {< void, Ptr< const\\TcpSocketBase >, const\\SequenceNumber32 \&, uint32\\\_t, bool >};
\node[lab] (lb102) at (526,3372) {< void, ns3::Ptr< ns3\\::TcpSocketMsgBase > >};
\node[lab] (lb103) at (1500,3153) {m\_processedAckCb\\m\_rcvAckCb};
\node[lab] (lb104) at (1500,3209) {m\_afterRetrCallback\\m\_beforeRetrCallback};
\node[lab] (lb105) at (1500,3252) {m\_updateRttCb};
\node[lab] (lb106) at (1500,3308) {m\_forkCb};
\node[lab] (lb107) at (2071,2590) {m\_remoteAddr};
\node[lab] (lb108) at (1883,2977) {m\_assertOnFailure\\m\_continueOnFailure\\m\_updateData\\m\_verbose};
\node[lab] (lb109) at (2222,1771) {m\_ptr};
\end{tikzpicture}
\end{document}
